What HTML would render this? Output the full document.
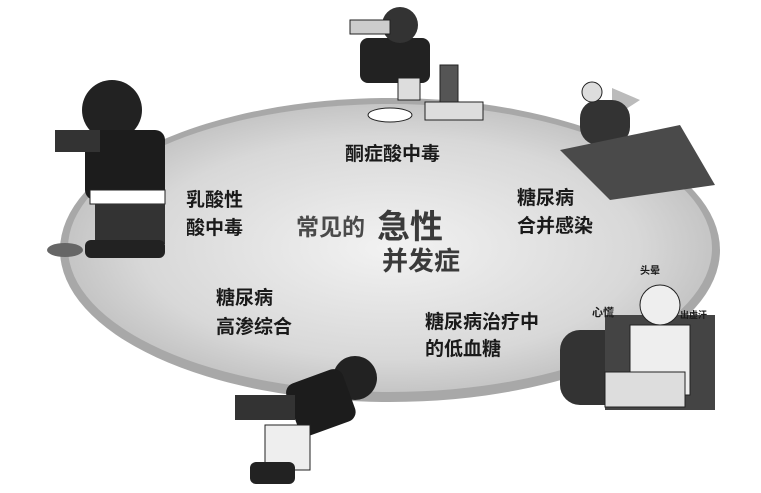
<!DOCTYPE html>
<html><head><meta charset="utf-8"><style>
html,body{margin:0;padding:0;background:#fff;}
svg{display:block}
text{font-family:"Liberation Sans","Noto Sans CJK SC",sans-serif;font-weight:bold;fill:#1a1a1a}
</style></head><body>
<svg width="761" height="493" viewBox="0 0 761 493" xmlns="http://www.w3.org/2000/svg">
<defs>
<radialGradient id="g" cx="0.5" cy="0.5" r="0.55">
<stop offset="0" stop-color="#f2f2f2"/><stop offset="0.7" stop-color="#d8d8d8"/><stop offset="1" stop-color="#bdbdbd"/>
</radialGradient>
</defs>
<rect width="761" height="493" fill="#fff"/>
<ellipse cx="390" cy="250" rx="330" ry="152" fill="#a8a8a8"/>
<ellipse cx="390" cy="248" rx="322" ry="144" fill="url(#g)"/>
<polygon points="612,88 640,100 612,118" fill="#bbb"/>
<!-- top drinker -->
<rect x="360" y="38" width="70" height="45" fill="#222" rx="8"/>
<circle cx="400" cy="25" r="18" fill="#333"/>
<rect x="350" y="20" width="40" height="14" fill="#ccc" stroke="#222"/>
<rect x="398" y="78" width="22" height="22" fill="#ddd" stroke="#222"/>
<rect x="440" y="65" width="18" height="38" fill="#555" stroke="#222"/>
<rect x="425" y="102" width="58" height="18" fill="#ddd" stroke="#222"/>
<ellipse cx="390" cy="115" rx="22" ry="7" fill="#fff" stroke="#222"/>
<!-- left man -->
<circle cx="112" cy="110" r="30" fill="#222"/>
<rect x="85" y="130" width="80" height="70" fill="#1c1c1c" rx="10"/>
<rect x="55" y="130" width="45" height="22" fill="#333"/>
<rect x="90" y="190" width="75" height="14" fill="#fff" stroke="#222"/>
<rect x="95" y="204" width="70" height="40" fill="#333"/>
<rect x="85" y="240" width="80" height="18" fill="#222" rx="6"/>
<ellipse cx="65" cy="250" rx="18" ry="7" fill="#666"/>
<!-- top right -->
<rect x="580" y="100" width="50" height="45" fill="#333" rx="18"/>
<circle cx="592" cy="92" r="10" fill="#ddd" stroke="#222"/>
<polygon points="560,150 680,125 715,185 610,200" fill="#4a4a4a"/>
<!-- right old man -->
<rect x="560" y="330" width="70" height="75" fill="#333" rx="20"/>
<rect x="605" y="315" width="110" height="95" fill="#444"/>
<circle cx="660" cy="305" r="20" fill="#eee" stroke="#222"/>
<rect x="630" y="325" width="60" height="70" fill="#eee" stroke="#222"/>
<rect x="605" y="372" width="80" height="35" fill="#ddd" stroke="#222"/>
<text x="592" y="316" font-size="11">心慌</text>
<text x="640" y="274" font-size="10">头晕</text>
<text x="680" y="318" font-size="9">出虚汗</text>
<!-- bottom boy -->
<circle cx="355" cy="378" r="22" fill="#222"/>
<rect x="290" y="375" width="60" height="55" fill="#1c1c1c" rx="10" transform="rotate(-20 320 400)"/>
<rect x="235" y="395" width="60" height="25" fill="#333"/>
<rect x="265" y="425" width="45" height="45" fill="#eee" stroke="#222"/>
<rect x="250" y="462" width="45" height="22" fill="#222" rx="6"/>
<!-- labels -->
<text x="345" y="160" font-size="19">酮症酸中毒</text>
<text x="186" y="206" font-size="19">乳酸性</text>
<text x="186" y="234" font-size="19">酸中毒</text>
<text x="296" y="235" font-size="23" fill="#444" style="fill:#4a4a4a">常见的</text>
<text x="377" y="238" font-size="33" style="fill:#3a3a3a">急性</text>
<text x="382" y="270" font-size="26" style="fill:#3a3a3a">并发症</text>
<text x="517" y="204" font-size="19">糖尿病</text>
<text x="517" y="232" font-size="19">合并感染</text>
<text x="216" y="304" font-size="19">糖尿病</text>
<text x="216" y="333" font-size="19">高渗综合</text>
<text x="425" y="328" font-size="19">糖尿病治疗中</text>
<text x="425" y="355" font-size="19">的低血糖</text>
</svg>
</body></html>
